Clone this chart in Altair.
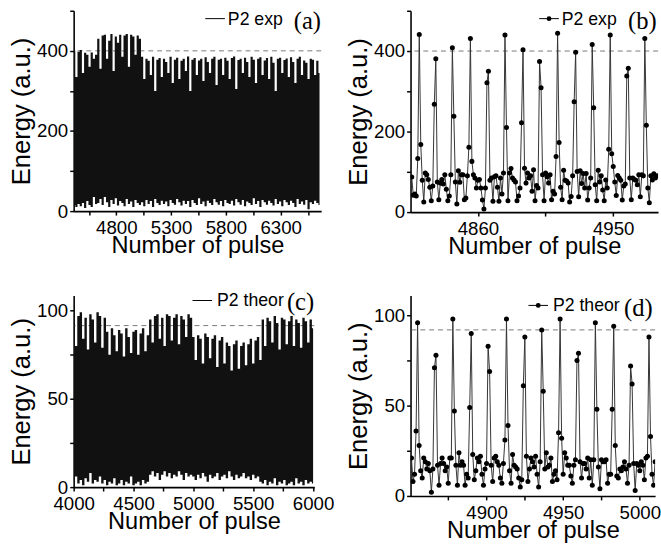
import altair as alt
import pandas as pd

# ---------------- data ----------------
# (a) experimental record, P2 energy: upper / lower envelope of the dense pulse train
a_start, a_step = 4415, 20
a_top = [400, 335, 398, 402, 345, 395, 390, 360, 396, 380, 390,
         430, 355, 438, 440, 380, 425, 442, 350, 436, 420, 440, 385, 438, 442, 360, 440, 436, 390, 438, 430,
         385, 330, 380, 375, 340, 385, 300, 378, 382, 335, 380, 372, 345, 385, 320, 378, 383, 330, 375, 380,
         350, 386, 300, 378, 382, 340, 376, 380, 325, 384, 372, 345, 380, 385, 315, 378, 380, 340, 383, 375,
         330, 382, 386, 305, 377, 380, 345, 383, 372, 335, 385, 378, 320, 380, 384, 340, 376, 382, 330, 385,
         370, 300, 380, 383, 345, 377, 381, 335, 384, 372, 320, 380, 385, 340, 376, 370, 330, 380, 378, 340,
         375, 345]
a_low = [15, 10, 18, 12, 20, 8, 25, 15, 10, 35, 18,
         20, 30, 15, 35, 22, 10, 28, 18, 32, 14, 25, 20, 12, 30, 18, 24, 10, 28, 20, 15,
         22, 12, 28, 18, 25, 10, 30, 20, 15, 26, 18, 24, 12, 28, 20, 16, 30, 22, 14, 26,
         18, 25, 10, 28, 20, 15, 32, 18, 24, 12, 26, 20, 15, 30, 22, 16, 25, 12, 28, 20,
         18, 26, 14, 30, 22, 16, 28, 12, 24, 20, 15, 32, 18, 25, 10, 28, 22, 16, 26, 20,
         14, 30, 18, 24, 12, 28, 22, 15, 26, 20, 10, 30, 18, 24, 16, 28, 5, 22, 18, 26,
         20, 15]
a_pulse = list(range(a_start, a_start + a_step * len(a_top), a_step))

# (b) experimental, zoom: one value per pulse
b_start = 4816
b_energy = [87, 42, 45, 40, 133, 441,
            168, 79, 25, 97, 93, 81, 62, 28, 65, 268, 381,
            75, 31, 72, 81, 70, 93, 57, 28, 40, 93, 408,
            238, 75, 20, 103, 74, 93, 93, 31, 35, 90, 161, 431,
            126, 93, 85, 60, 79, 81, 60, 30, 8, 60, 321, 350,
            79, 85, 27, 88, 90, 62, 27, 85, 45, 97, 440,
            210, 28, 97, 108, 85, 80, 75, 28, 40, 60, 222, 403,
            109, 72, 97, 85, 90, 52, 105, 28, 66, 60, 374,
            309, 93, 28, 97, 88, 72, 93, 31, 52, 45, 138, 444,
            173, 62, 31, 104, 79, 77, 72, 25, 39, 90, 274, 397,
            101, 38, 103, 71, 96, 60, 96, 30, 60, 85, 416,
            259, 68, 28, 104, 75, 90, 55, 28, 80, 60, 156, 440,
            145, 113, 75, 41, 91, 85, 79, 30, 65, 70, 338, 357,
            85, 31, 85, 81, 79, 68, 93, 38, 93, 90, 431,
            216, 60, 23, 90, 80, 95, 85, 90]
b_pulse = list(range(b_start, b_start + len(b_energy)))

# (c) theoretical record: upper / lower envelope
c_start, c_step = 4000, 20
c_top = [98, 80, 97, 99, 84, 96, 78, 98, 95, 82, 99, 97, 79, 96,
         88, 75, 90, 86, 77, 89, 87, 74, 90, 85, 76, 88, 89, 75, 87, 90, 77, 86,
         95, 82, 97, 98, 84, 96, 80, 98, 97, 83, 96, 98, 81, 97, 95, 85, 98, 96,
         85, 72, 86, 84, 70, 87, 85, 73, 84, 86, 68, 83, 85, 70, 82, 80, 66, 81, 83, 67,
         80, 82, 69, 81, 84, 70, 83, 85, 72,
         95, 80, 96, 94, 82, 97, 93, 78, 96, 95, 81, 94, 97, 80, 95, 93, 79, 96, 94, 82, 95, 90]
c_low = [3, 6, 2, 4, 1, 5, 3, 8, 2, 4, 3, 6, 2, 4,
         1, 3, 2, 5, 1, 2, 4, 1, 3, 2, 6, 1, 2, 3, 1, 4, 2, 3,
         7, 9, 6, 8, 4, 7, 9, 6, 8, 5, 7, 6, 9, 7, 4, 8, 6, 7,
         6, 4, 7, 5, 8, 6, 3, 7, 5, 6, 8, 4, 6, 7, 5, 9, 6, 4, 7, 5,
         6, 8, 5, 6, 4, 7, 5, 6, 3,
         2, 4, 1, 3, 2, 5, 1, 3, 2, 4, 1, 2, 3, 1, 5, 2, 3, 1, 4, 2, 3, 2]
c_pulse = list(range(c_start, c_start + c_step * len(c_top), c_step))

# (d) theoretical, zoom: one value per pulse
d_start = 4851
d_energy = [21, 8, 12, 36, 96,
            28, 14, 10, 21, 19, 15, 18, 14, 2, 15, 71, 78,
            17, 6, 18, 21, 18, 14, 16, 7, 21, 21, 98,
            47, 17, 6, 24, 17, 19, 17, 6, 12, 10, 49, 90,
            23, 9, 14, 21, 19, 22, 12, 6, 15, 18, 83,
            69, 17, 8, 21, 22, 19, 17, 10, 7, 18, 31, 98,
            39, 14, 7, 23, 17, 16, 15, 10, 5, 9, 61, 88,
            22, 8, 15, 21, 19, 16, 22, 12, 5, 19, 92,
            58, 15, 24, 16, 17, 21, 8, 12, 14, 9, 35, 98,
            32, 12, 24, 21, 17, 17, 11, 7, 17, 20, 75, 79,
            19, 10, 18, 18, 15, 21, 10, 20, 6, 20, 96,
            48, 16, 4, 20, 19, 19, 20, 7, 12, 12, 48, 94,
            28, 11, 10, 15, 14, 16, 19, 15, 7, 17, 72,
            62, 18, 3, 18, 17, 14, 19, 17, 9, 21, 22, 88,
            33, 12, 6, 19]
d_pulse = list(range(d_start, d_start + len(d_energy)))

thresholds = {"a": 400, "b": 400, "c": 91.5, "d": 92}

# ---------------- styling helpers ----------------
FONT = "Liberation Sans"
SERIF = "Liberation Serif"
one = pd.DataFrame({"k": [0]})


def axis(values, labeled, title, title_size, title_pad, label_pad=2):
    lab = "[" + ",".join(str(v) for v in labeled) + "]"
    test = f"indexof({lab}, datum.value) >= 0"
    return alt.Axis(
        values=values, format="d", title=title,
        labelExpr=f"{test} ? datum.label : ''",
        labelFont=FONT, labelColor="black", labelPadding=label_pad,
        labelFontSize={"condition": {"test": test, "value": 19}, "value": 0},
        labelFlush=False, labelOverlap=False,
        titleFont=FONT, titleFontSize=title_size, titleFontWeight="normal",
        titleColor="black", titlePadding=title_pad,
        tickSize=4, tickWidth=1.5, tickColor="black",
        domainColor="black", domainWidth=1.6, grid=False,
    )


def xaxis(values, labeled):
    return axis(values, labeled, "Number of pulse", 24, -4, label_pad=4)


def yaxis(values, labeled):
    return axis(values, labeled, "Energy (a.u.)", 26, 2)


def legend(label, panel, lx, ly, tx, pl_x, pl_y, with_dot):
    layers = [
        alt.Chart(one).mark_rule(color="black", strokeWidth=1).encode(
            x=alt.value(lx), x2=alt.value(lx + 20), y=alt.value(ly)),
        alt.Chart(one).mark_text(text=label, font=FONT, fontSize=18, align="left",
                                 baseline="middle", color="black").encode(
            x=alt.value(tx), y=alt.value(ly + 1)),
        alt.Chart(one).mark_text(text=panel, font=SERIF, fontSize=25, align="center",
                                 baseline="middle", color="black").encode(
            x=alt.value(pl_x), y=alt.value(pl_y)),
    ]
    if with_dot:
        layers.append(alt.Chart(one).mark_circle(size=24, color="black", opacity=1).encode(
            x=alt.value(lx + 10), y=alt.value(ly)))
    return layers


def thresh(v, yscale):
    return alt.Chart(pd.DataFrame({"t": [v]})).mark_rule(
        color="#777777", strokeWidth=1, strokeDash=[5, 4]).encode(
        y=alt.Y("t:Q", scale=yscale))


# ---------------- panel (a) ----------------
xa = alt.Scale(domain=[4410, 6670], nice=False, zero=False)
ya = alt.Scale(domain=[0, 500], nice=False)
dfa = pd.DataFrame({"pulse": a_pulse, "top": a_top, "low": a_low})
band_a = alt.Chart(dfa).mark_area(color="#111111", clip=True, interpolate="step").encode(
    x=alt.X("pulse:Q", scale=xa,
            axis=xaxis([4550, 4800, 5050, 5300, 5550, 5800, 6050, 6300, 6550],
                       [4800, 5300, 5800, 6300])),
    y=alt.Y("low:Q", scale=ya, axis=yaxis([0, 100, 200, 300, 400, 500], [0, 200, 400])),
    y2="top:Q",
)
panel_a = alt.layer(thresh(thresholds["a"], ya), band_a,
                    *legend("P2 exp", "(a)", 134, 8, 157, 238, 11, False)
                    ).properties(width=252, height=204)

# ---------------- panel (b) ----------------
xb = alt.Scale(domain=[4815.2, 4979.8], nice=False, zero=False)
yb = alt.Scale(domain=[0, 500], nice=False)
dfb = pd.DataFrame({"pulse": b_pulse, "energy": b_energy})
xb_enc = alt.X("pulse:Q", scale=xb, axis=xaxis([4860, 4905, 4950], [4860, 4950]))
yb_enc = alt.Y("energy:Q", scale=yb, axis=yaxis([0, 100, 200, 300, 400, 500], [0, 200, 400]))
line_b = alt.Chart(dfb).mark_line(color="#333333", strokeWidth=1, clip=True).encode(x=xb_enc, y=yb_enc)
pts_b = alt.Chart(dfb).mark_circle(size=26, color="black", opacity=1, clip=True).encode(x=xb_enc, y=yb_enc)
panel_b = alt.layer(thresh(thresholds["b"], yb), line_b, pts_b,
                    *legend("P2 exp", "(b)", 131, 8, 154, 236, 11, True)
                    ).properties(width=252, height=205)

# ---------------- panel (c) ----------------
xc = alt.Scale(domain=[4000, 6010], nice=False, zero=False)
yc = alt.Scale(domain=[0, 108.5], nice=False)
dfc = pd.DataFrame({"pulse": c_pulse, "top": c_top, "low": c_low})
band_c = alt.Chart(dfc).mark_area(color="#111111", clip=True, interpolate="step").encode(
    x=alt.X("pulse:Q", scale=xc,
            axis=xaxis([4000, 4250, 4500, 4750, 5000, 5250, 5500, 5750, 6000],
                       [4000, 4500, 5000, 5500, 6000])),
    y=alt.Y("low:Q", scale=yc, axis=yaxis([0, 25, 50, 75, 100], [0, 50, 100])),
    y2="top:Q",
)
panel_c = alt.layer(thresh(thresholds["c"], yc), band_c,
                    *legend("P2 theor", "(c)", 121, 5, 146, 231, 7, False)
                    ).properties(width=245, height=195)

# ---------------- panel (d) ----------------
xd = alt.Scale(domain=[4850.4, 5010], nice=False, zero=False)
yd = alt.Scale(domain=[0, 111], nice=False)
dfd = pd.DataFrame({"pulse": d_pulse, "energy": d_energy})
xd_enc = alt.X("pulse:Q", scale=xd,
               axis=xaxis([4875, 4900, 4925, 4950, 4975, 5000], [4900, 4950, 5000]))
yd_enc = alt.Y("energy:Q", scale=yd, axis=yaxis([0, 25, 50, 75, 100], [0, 50, 100]))
line_d = alt.Chart(dfd).mark_line(color="#333333", strokeWidth=1, clip=True).encode(x=xd_enc, y=yd_enc)
pts_d = alt.Chart(dfd).mark_circle(size=26, color="black", opacity=1, clip=True).encode(x=xd_enc, y=yd_enc)
panel_d = alt.layer(thresh(thresholds["d"], yd), line_d, pts_d,
                    *legend("P2 theor", "(d)", 120, 10, 145, 232, 13, True)
                    ).properties(width=249, height=204)

chart = alt.concat(panel_a, panel_b, panel_c, panel_d, columns=2,
                   spacing={"row": 33, "column": 12}).properties(
    padding={"left": 9, "top": 5, "right": 0, "bottom": 0},
    background="white",
).configure_view(stroke=None)

chart.save("out.html", embed_options={"renderer": "svg", "actions": False})
